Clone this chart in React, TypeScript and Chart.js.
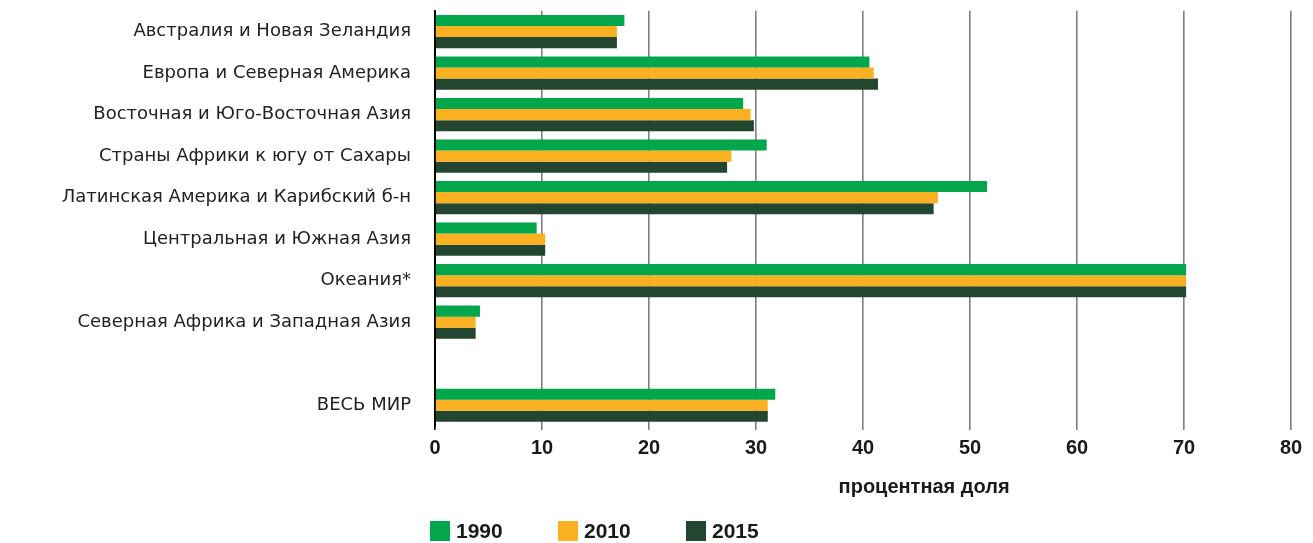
import { useEffect, useRef } from 'react';
import { Chart, registerables } from 'chart.js';

Chart.register(...registerables);

const categories = [
  'Австралия и Новая Зеландия',
  'Европа и Северная Америка',
  'Восточная и Юго-Восточная Азия',
  'Страны Африки к югу от Сахары',
  'Латинская Америка и Карибский б-н',
  'Центральная и Южная Азия',
  'Океания*',
  'Северная Африка и Западная Азия',
  '',
  'ВЕСЬ МИР',
];
const seriesNames = ['1990', '2010', '2015'];
const values1990 = [17.7, 40.6, 28.8, 31.0, 51.6, 9.5, 70.2, 4.2, null, 31.8];
const values2010 = [17.0, 41.0, 29.5, 27.7, 47.0, 10.3, 70.2, 3.8, null, 31.1];
const values2015 = [17.0, 41.4, 29.8, 27.3, 46.6, 10.3, 70.2, 3.8, null, 31.1];
const axisTitle = 'процентная доля';
const xMin = 0;
const xMax = 80;
const xStep = 10;

const colors = ['#03a64a', '#f9b122', '#22462f'];
const boldFont = '"Liberation Sans", Arial, sans-serif';

const legendPlugin = {
  id: 'customBottomLegend',
  afterDraw(chart: any) {
    const ctx = chart.ctx;
    const left = chart.chartArea.left - 5;
    const boxTop = chart.height - 22;
    ctx.save();
    ctx.font = `bold 21px ${boldFont}`;
    ctx.textBaseline = 'middle';
    ctx.textAlign = 'left';
    chart.data.datasets.forEach((ds: any, i: number) => {
      const x = left + i * 128;
      ctx.fillStyle = ds.backgroundColor;
      ctx.fillRect(x, boxTop, 20, 20);
      ctx.fillStyle = '#1a1a1a';
      ctx.fillText(ds.label, x + 26, boxTop + 11);
    });
    ctx.restore();
  },
};

export default function App() {
  const ref = useRef<HTMLCanvasElement | null>(null);

  useEffect(() => {
    if (!ref.current) return;
    const seriesValues = [values1990, values2010, values2015];
    const chart = new Chart(ref.current, {
      type: 'bar',
      data: {
        labels: categories,
        datasets: seriesNames.map((name, i) => ({
          label: name,
          data: seriesValues[i],
          backgroundColor: colors[i],
          borderWidth: 0,
          categoryPercentage: 0.8,
          barPercentage: 1.0,
        })),
      },
      options: {
        indexAxis: 'y',
        animation: false,
        responsive: true,
        maintainAspectRatio: false,
        layout: { padding: { left: 4, right: 22, top: 10, bottom: 44 } },
        plugins: {
          legend: { display: false },
          tooltip: { enabled: false },
        },
        scales: {
          x: {
            min: xMin,
            max: xMax,
            ticks: {
              stepSize: xStep,
              color: '#1a1a1a',
              font: { family: boldFont, size: 20, weight: 'bold' },
              padding: 6,
            },
            grid: {
              color: (c: any) => (c.index === 0 ? 'rgba(0,0,0,0)' : '#7f7f7f'),
              tickColor: (c: any) => (c.index === 0 ? '#000' : '#7f7f7f'),
              lineWidth: 1.6,
              tickLength: 4,
            },
            border: { display: false },
            title: {
              display: true,
              text: ' '.repeat(22) + axisTitle,
              color: '#1a1a1a',
              font: { family: boldFont, size: 20, weight: 'bold' },
              padding: { top: 9, bottom: 0 },
            },
          },
          y: {
            afterFit: (scale: any) => {
              scale.width = 431;
            },
            ticks: {
              color: '#222',
              font: { family: '"DejaVu Sans", sans-serif', size: 18 },
              padding: 0,
            },
            grid: {
              display: true,
              drawOnChartArea: false,
              drawTicks: true,
              tickLength: 24,
              color: 'rgba(0,0,0,0)',
              tickColor: 'rgba(0,0,0,0)',
            },
            border: { display: true, color: '#000', width: 2 },
          },
        },
      },
      plugins: [legendPlugin],
    });
    return () => chart.destroy();
  }, []);

  return (
    <div style={{ position: 'fixed', left: 0, top: 0, width: 1313, height: 543, background: '#fff' }}>
      <canvas ref={ref} />
    </div>
  );
}
